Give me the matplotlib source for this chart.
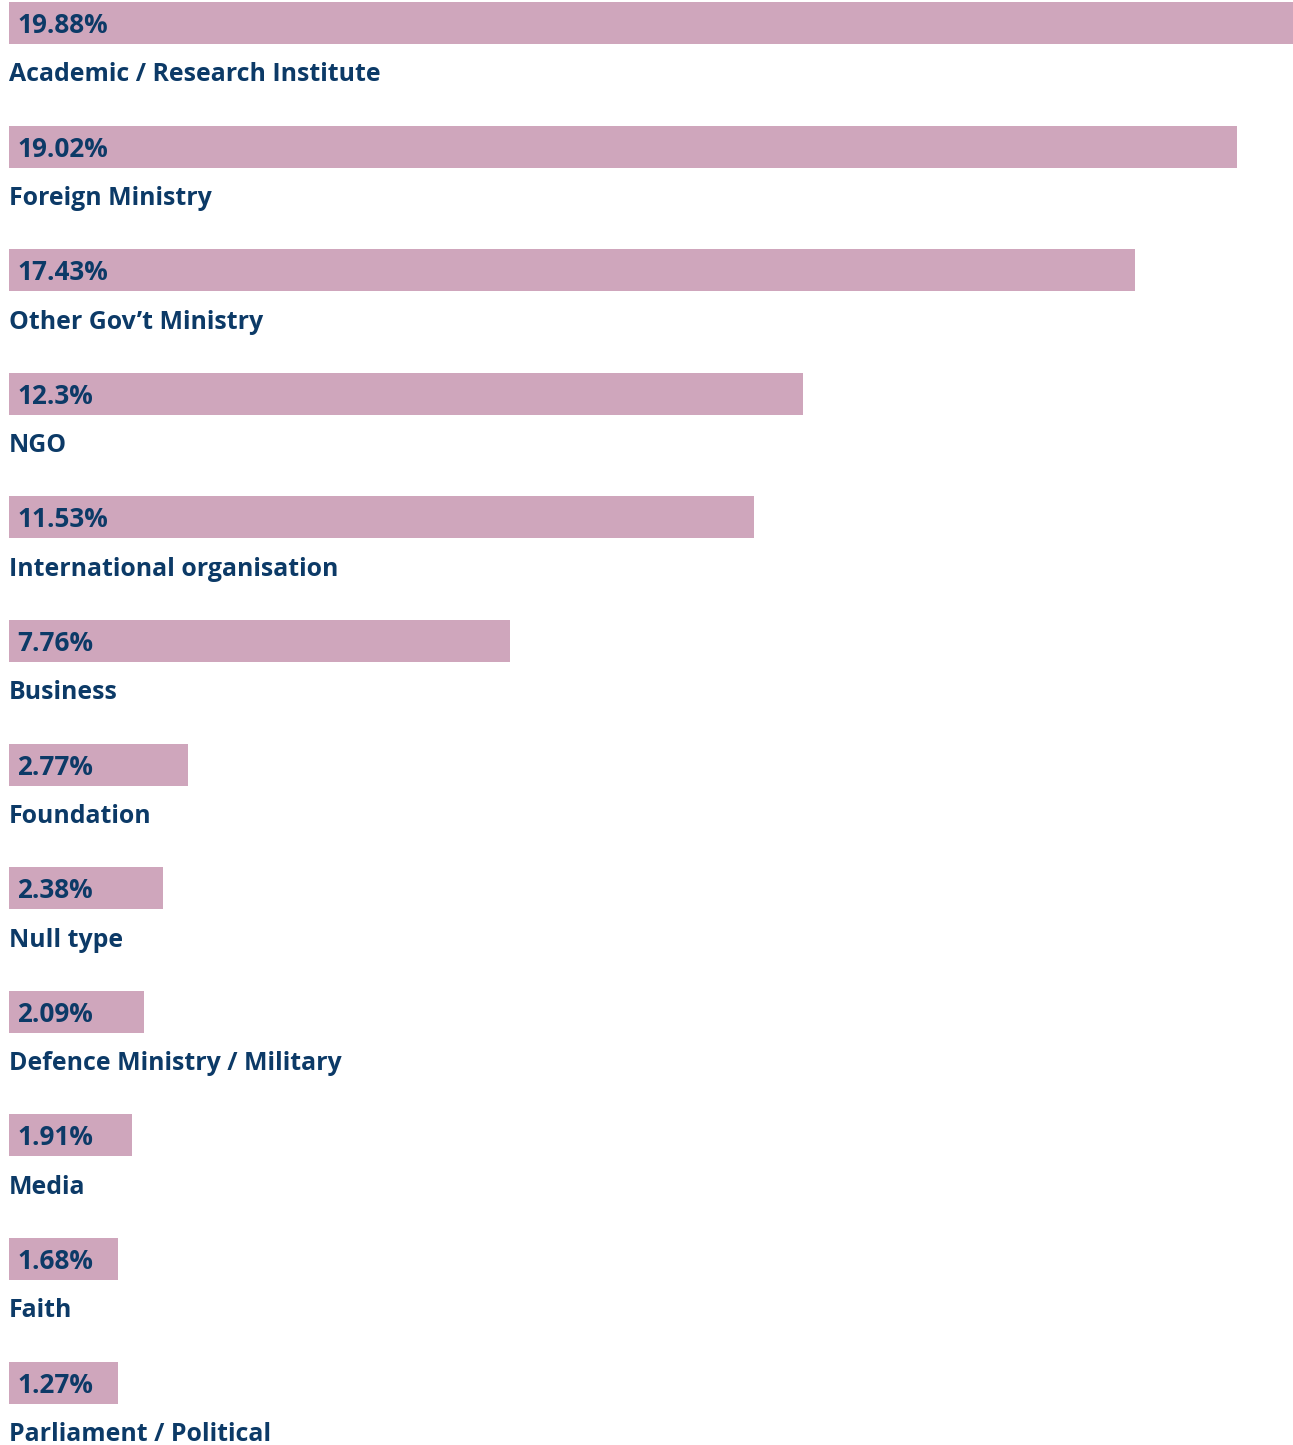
import numpy as np
import matplotlib.pyplot as plt

# Data
categories = ["Academic / Research Institute", "Foreign Ministry", "Other Gov\u2019t Ministry",
              "NGO", "International organisation", "Business", "Foundation", "Null type",
              "Defence Ministry / Military", "Media", "Faith", "Parliament / Political"]
shares = [19.88, 19.02, 17.43, 12.3, 11.53, 7.76, 2.77, 2.38, 2.09, 1.91, 1.68, 1.27]
value_labels = ["19.88%", "19.02%", "17.43%", "12.3%", "11.53%", "7.76%",
                "2.77%", "2.38%", "2.09%", "1.91%", "1.68%", "1.27%"]

bar_color = "#cfa6bc"
text_color = "#0c3a67"
min_width = 1.69  # small bars are padded so the label fits

fig = plt.figure(figsize=(12.93, 14.45), dpi=100)
ax = fig.add_axes([9 / 1293, 0, 1284 / 1293, 1])

y = np.arange(len(categories))
widths = np.maximum(shares, min_width)
ax.barh(y, widths, height=0.34, color=bar_color, align="center")

font = dict(family=["Open Sans", "DejaVu Sans"], fontweight="bold", color=text_color)
for i, (cat, lab) in enumerate(zip(categories, value_labels)):
    ax.text(0.13, i + 0.02, lab, va="center", ha="left", fontsize=18.8, **font)
    ax.text(0.0, i + 0.42, cat, va="center", ha="left", fontsize=17.9, **font)

ax.set_xlim(0, max(shares))
ax.set_ylim(11.505, -0.186)
ax.axis("off")

fig.savefig("out.png", dpi=100)
